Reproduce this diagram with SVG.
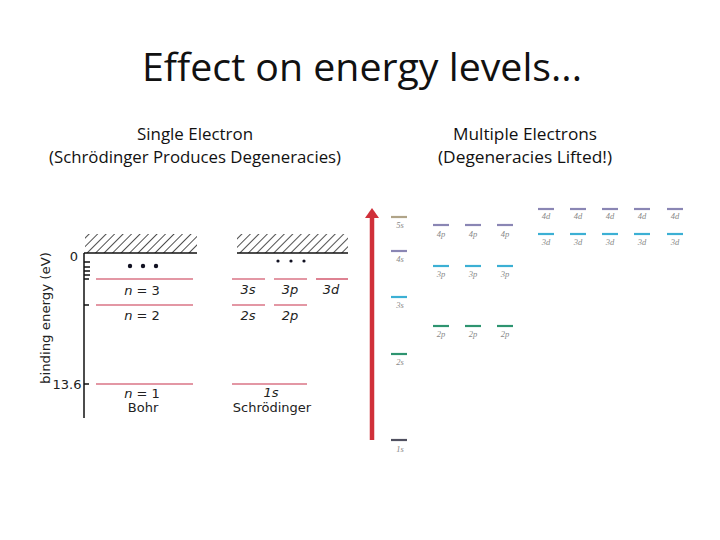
<svg xmlns="http://www.w3.org/2000/svg" width="720" height="540" viewBox="0 0 720 540">
<defs>
<pattern id="hatch" patternUnits="userSpaceOnUse" width="6" height="6" patternTransform="rotate(45)">
<rect width="6" height="6" fill="#fff"/>
<line x1="0" y1="0" x2="0" y2="6" stroke="#222" stroke-width="1.6"/>
</pattern>
<style>
.title{font-family:"Open Sans","Liberation Sans",sans-serif;font-size:38px;fill:#111;text-anchor:middle}
.sub{font-family:"Open Sans","Liberation Sans",sans-serif;font-size:16px;fill:#111;text-anchor:middle}
.lbl{font-family:"DejaVu Sans","Liberation Sans",sans-serif;font-size:13px;fill:#222;text-anchor:middle}
.it{font-style:italic}
.lvl{stroke:#c8304a;stroke-width:1.2}
.tick{stroke:#111;stroke-width:1.5}
.sm{font-family:"Liberation Serif",serif;font-style:italic;font-size:8.5px;fill:#888;text-anchor:middle}
</style>
</defs>
<rect width="720" height="540" fill="#fff"/>
<text class="title" x="362" y="81" textLength="440" lengthAdjust="spacingAndGlyphs">Effect on energy levels...</text>
<text class="sub" x="195" y="140" textLength="116" lengthAdjust="spacingAndGlyphs">Single Electron</text>
<text class="sub" x="195" y="163" textLength="292" lengthAdjust="spacingAndGlyphs">(Schrödinger Produces Degeneracies)</text>
<text class="sub" x="525" y="140" textLength="144" lengthAdjust="spacingAndGlyphs">Multiple Electrons</text>
<text class="sub" x="525" y="163" textLength="174" lengthAdjust="spacingAndGlyphs">(Degeneracies Lifted!)</text>

<g id="bohr">
<text class="lbl" transform="translate(50,318) rotate(-90)" textLength="132" lengthAdjust="spacingAndGlyphs">binding energy (eV)</text>
<rect x="85" y="234" width="112" height="19" fill="url(#hatch)"/>
<line x1="84" y1="253" x2="197" y2="253" stroke="#111" stroke-width="1.5"/>
<line x1="84" y1="253" x2="84" y2="418" stroke="#111" stroke-width="1.5"/>
<line class="tick" x1="84" y1="262" x2="90" y2="262"/>
<line class="tick" x1="84" y1="267" x2="90" y2="267"/>
<line class="tick" x1="84" y1="271" x2="90" y2="271"/>
<line class="tick" x1="84" y1="275" x2="90" y2="275"/>
<line class="tick" x1="84" y1="279" x2="89" y2="279"/>
<line class="tick" x1="84" y1="305" x2="89" y2="305"/>
<line class="tick" x1="84" y1="384" x2="89" y2="384"/>
<text class="lbl" x="74" y="261">0</text>
<text class="lbl" x="67" y="389">13.6</text>
<circle cx="130" cy="266" r="2.2" fill="#112"/>
<circle cx="143" cy="266" r="2.2" fill="#112"/>
<circle cx="156" cy="266" r="2.2" fill="#112"/>
<line class="lvl" x1="96" y1="279" x2="193" y2="279"/>
<line class="lvl" x1="96" y1="305" x2="193" y2="305"/>
<line class="lvl" x1="96" y1="384" x2="193" y2="384"/>
<text class="lbl" x="142" y="295"><tspan class="it">n</tspan> = 3</text>
<text class="lbl" x="142" y="320"><tspan class="it">n</tspan> = 2</text>
<text class="lbl" x="142" y="398"><tspan class="it">n</tspan> = 1</text>
<text class="lbl" x="143" y="412">Bohr</text>
</g>

<g id="schrodinger">
<rect x="237" y="234" width="111" height="19" fill="url(#hatch)"/>
<line x1="237" y1="253" x2="348" y2="253" stroke="#111" stroke-width="1.5"/>
<circle cx="278" cy="261" r="1.6" fill="#112"/>
<circle cx="291" cy="261" r="1.6" fill="#112"/>
<circle cx="304" cy="261" r="1.6" fill="#112"/>
<line class="lvl" x1="232" y1="279" x2="265" y2="279"/>
<line class="lvl" x1="274" y1="279" x2="307" y2="279"/>
<line class="lvl" x1="316" y1="279" x2="348" y2="279"/>
<line class="lvl" x1="232" y1="305" x2="265" y2="305"/>
<line class="lvl" x1="274" y1="305" x2="307" y2="305"/>
<line class="lvl" x1="232" y1="384" x2="307" y2="384"/>
<text class="lbl it" x="248" y="294">3s</text>
<text class="lbl it" x="290" y="294">3p</text>
<text class="lbl it" x="331" y="294">3d</text>
<text class="lbl it" x="248" y="320">2s</text>
<text class="lbl it" x="290" y="320">2p</text>
<text class="lbl it" x="271" y="397">1s</text>
<text class="lbl" x="272" y="412">Schrödinger</text>
</g>

<g id="arrow">
<line x1="372" y1="440" x2="372" y2="215" stroke="#d0303a" stroke-width="4.5"/>
<polygon points="365,218 372,208 379,218" fill="#d0303a"/>
</g>

<g id="multi">
<g stroke-width="2.2">
<line x1="391" y1="217" x2="407" y2="217" stroke="#b0a488"/>
<line x1="391" y1="251" x2="407" y2="251" stroke="#8a86b4"/>
<line x1="391" y1="297" x2="407" y2="297" stroke="#3cb0d4"/>
<line x1="391" y1="354" x2="407" y2="354" stroke="#2e9470"/>
<line x1="391" y1="440" x2="407" y2="440" stroke="#505060"/>
<g stroke="#8a86b4">
<line x1="433" y1="225" x2="449" y2="225"/><line x1="465" y1="225" x2="481" y2="225"/><line x1="497" y1="225" x2="513" y2="225"/>
<line x1="538" y1="209" x2="554" y2="209"/><line x1="570" y1="209" x2="586" y2="209"/><line x1="602" y1="209" x2="618" y2="209"/><line x1="634" y1="209" x2="650" y2="209"/><line x1="667" y1="209" x2="683" y2="209"/>
</g>
<g stroke="#3cb0d4">
<line x1="433" y1="266" x2="449" y2="266"/><line x1="465" y1="266" x2="481" y2="266"/><line x1="497" y1="266" x2="513" y2="266"/>
<line x1="538" y1="234" x2="554" y2="234"/><line x1="570" y1="234" x2="586" y2="234"/><line x1="602" y1="234" x2="618" y2="234"/><line x1="634" y1="234" x2="650" y2="234"/><line x1="667" y1="234" x2="683" y2="234"/>
</g>
<g stroke="#2e9470">
<line x1="433" y1="326" x2="449" y2="326"/><line x1="465" y1="326" x2="481" y2="326"/><line x1="497" y1="326" x2="513" y2="326"/>
</g>
</g>
<text class="sm" x="400" y="228">5s</text>
<text class="sm" x="400" y="262">4s</text>
<text class="sm" x="400" y="308">3s</text>
<text class="sm" x="400" y="365">2s</text>
<text class="sm" x="400" y="452">1s</text>
<text class="sm" x="441" y="237">4p</text><text class="sm" x="473" y="237">4p</text><text class="sm" x="505" y="237">4p</text>
<text class="sm" x="441" y="277">3p</text><text class="sm" x="473" y="277">3p</text><text class="sm" x="505" y="277">3p</text>
<text class="sm" x="441" y="337">2p</text><text class="sm" x="473" y="337">2p</text><text class="sm" x="505" y="337">2p</text>
<text class="sm" x="546" y="219">4d</text><text class="sm" x="578" y="219">4d</text><text class="sm" x="610" y="219">4d</text><text class="sm" x="642" y="219">4d</text><text class="sm" x="675" y="219">4d</text>
<text class="sm" x="546" y="245">3d</text><text class="sm" x="578" y="245">3d</text><text class="sm" x="610" y="245">3d</text><text class="sm" x="642" y="245">3d</text><text class="sm" x="675" y="245">3d</text>
</g>
</svg>
